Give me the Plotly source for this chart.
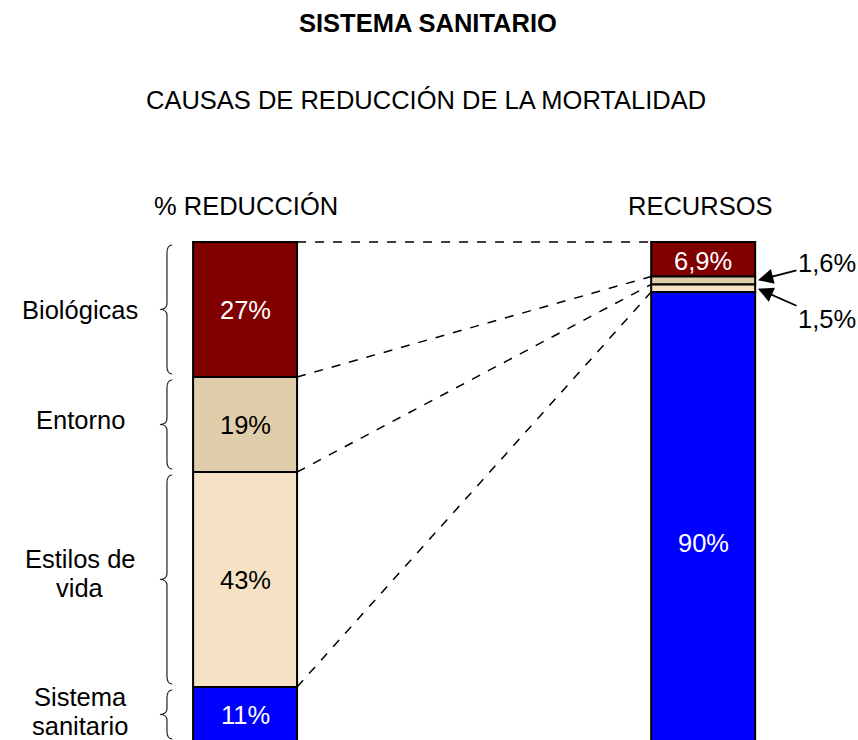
import plotly.graph_objects as go

# ---------------- data ----------------
causes = ["Biológicas", "Entorno", "Estilos de<br>vida", "Sistema<br>sanitario"]
reduction_pct = [27, 19, 43, 11]          # % reducción de la mortalidad (top -> bottom)
resources_pct = [6.9, 1.6, 1.5, 90]       # % recursos (top -> bottom)
seg_colors = ["#800000", "#E0CDAA", "#F5E1C3", "#0000FF"]
text_colors = ["white", "black", "black", "white"]
res_text_colors = ["white", "black", "black", "white"]
bar_names = ["% REDUCCIÓN", "RECURSOS"]
main_title = "SISTEMA SANITARIO"
sub_title = "CAUSAS DE REDUCCIÓN DE LA MORTALIDAD"

FONT = "Liberation Sans, Arial, sans-serif"
FS = 25.5
BW = 0.227          # bar width in x units
XPOS = [0, 1]       # bar positions


def fmt(v):
    return f"{v:g}".replace(".", ",") + "%"


def stack(values):
    """bases for values listed top->bottom, stacked from 0 upward"""
    bases = []
    b = sum(values)
    for v in values:
        b -= v
        bases.append(b)
    return bases


left_base = stack(reduction_pct)
right_base = stack(resources_pct)

fig = go.Figure()
for xp, vals, bases in [(XPOS[0], reduction_pct, left_base), (XPOS[1], resources_pct, right_base)]:
    fig.add_trace(go.Bar(
        x=[xp] * len(vals), y=vals, base=bases, width=BW,
        marker=dict(color=seg_colors, line=dict(color="black", width=2)),
        hoverinfo="skip", showlegend=False,
    ))

annotations = []
shapes = []

# segment labels
for v, b, c in zip(reduction_pct, left_base, text_colors):
    annotations.append(dict(x=XPOS[0], y=b + v / 2, text=fmt(v), showarrow=False,
                            yanchor="middle", font=dict(family=FONT, size=FS, color=c)))
for i, (v, b, c) in enumerate(zip(resources_pct, right_base, res_text_colors)):
    if v >= 5:
        annotations.append(dict(x=XPOS[1], y=b + v / 2, text=fmt(v), showarrow=False,
                                yanchor="middle", yshift=-26 if v > 50 else -2,
                                font=dict(family=FONT, size=FS, color=c)))

# small resource segments: labels with arrows
arrow_offsets = {1: (70, -18), 2: (70, 31)}
for i, (dx, dy) in arrow_offsets.items():
    v, b = resources_pct[i], right_base[i]
    annotations.append(dict(x=XPOS[1] + BW / 2 + 0.004, y=b + v / 2, text=fmt(v),
                            showarrow=True, ax=dx, ay=dy, arrowhead=2, arrowsize=1.7,
                            arrowwidth=1.8, arrowcolor="black", standoff=1,
                            font=dict(family=FONT, size=FS, color="black")))

# dashed connectors between boundaries
left_tops = [b + v for v, b in zip(reduction_pct, left_base)]
right_tops = [b + v for v, b in zip(resources_pct, right_base)]
for ly, ry in zip(left_tops, right_tops):
    shapes.append(dict(type="line", xref="x", yref="y",
                       x0=XPOS[0] + BW / 2, y0=ly, x1=XPOS[1] - BW / 2, y1=ry,
                       line=dict(color="black", width=1.5, dash="dash")))

# braces and cause labels
xl, xt, xe = -0.1705, -0.186, -0.159
gap, curl, tip = 0.6, 1.6, 1.2
label_shift = [0, 5, 6, 3]
LINE_H = 29
for name, v, b, sh in zip(causes, reduction_pct, left_base, label_shift):
    yt, yb = b + v - gap, b + gap
    ym = b + v / 2
    path = (f"M {xe},{yt} Q {xl},{yt} {xl},{yt - curl} L {xl},{ym + tip} "
            f"Q {xl},{ym} {xt},{ym} Q {xl},{ym} {xl},{ym - tip} "
            f"L {xl},{yb + curl} Q {xl},{yb} {xe},{yb}")
    shapes.append(dict(type="path", xref="x", yref="y", path=path,
                       line=dict(color="#222222", width=1.2)))
    lines = name.split("<br>")
    n = len(lines)
    for k, line in enumerate(lines):
        off = ((n - 1) / 2 - k) * LINE_H
        annotations.append(dict(x=-0.36, y=ym, text=line, showarrow=False,
                                yanchor="middle", yshift=sh + off,
                                font=dict(family=FONT, size=FS, color="black")))

# column headers
for xp, name, dxp in zip(XPOS, bar_names, [0.003, -0.006]):
    annotations.append(dict(x=xp + dxp, y=107.2, text=name, showarrow=False,
                            yanchor="middle", font=dict(family=FONT, size=FS, color="black")))

# titles
annotations.append(dict(xref="paper", yref="paper", x=0.4985, y=1 - 23 / 740,
                        xanchor="center", yanchor="middle",
                        text=f"<b>{main_title}</b>", showarrow=False,
                        font=dict(family=FONT, size=FS, color="black")))
annotations.append(dict(xref="paper", yref="paper", x=0.497, y=1 - 100 / 740,
                        xanchor="center", yanchor="middle",
                        text=sub_title, showarrow=False,
                        font=dict(family=FONT, size=FS, color="black")))

fig.update_layout(
    width=858, height=740,
    margin=dict(l=0, r=0, t=0, b=0),
    paper_bgcolor="white", plot_bgcolor="white",
    barmode="overlay",
    xaxis=dict(range=[-0.535, 1.338], visible=False, fixedrange=True),
    yaxis=dict(range=[0.4, 148.4], visible=False, fixedrange=True),
    shapes=shapes, annotations=annotations,
    font=dict(family=FONT),
)

fig.write_html("out.html")
